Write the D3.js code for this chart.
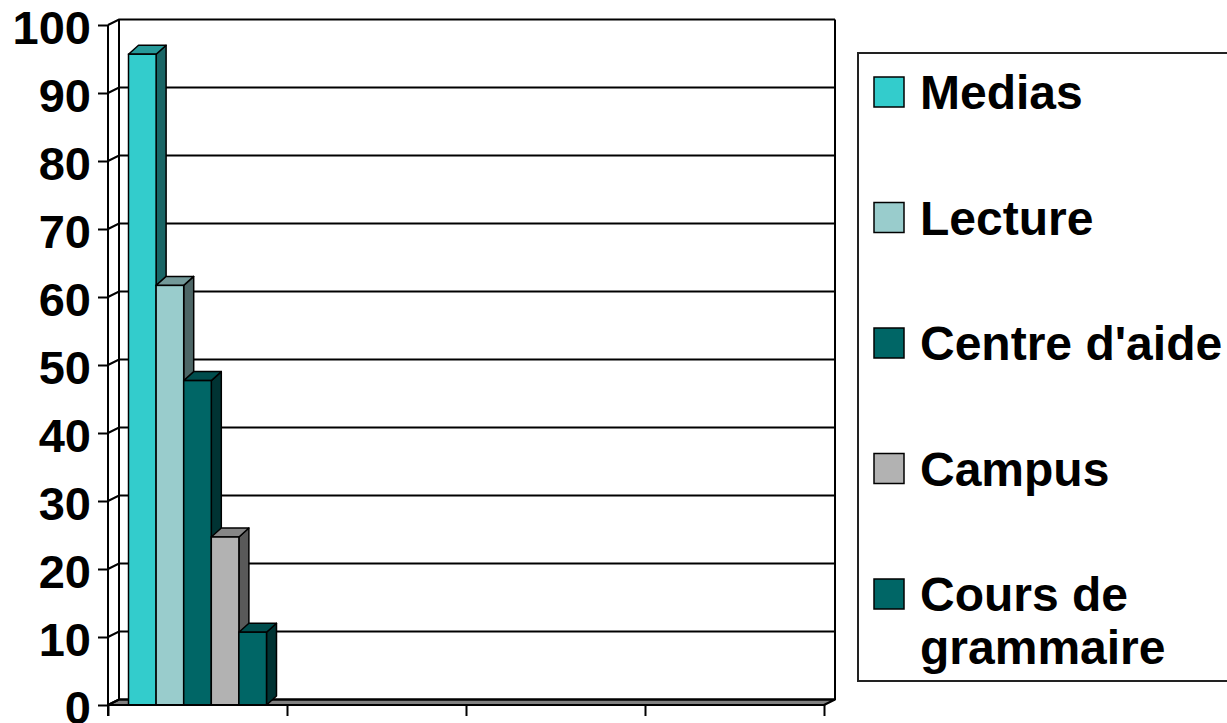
<!DOCTYPE html>
<html>
<head>
<meta charset="utf-8">
<script src="https://cdn.jsdelivr.net/npm/d3@7/dist/d3.min.js"></script>
<style>
  html, body { margin: 0; padding: 0; background: #fff; }
  svg { display: block; }
  text { font-family: "Liberation Sans", Arial, sans-serif; font-weight: bold; fill: #000; }
</style>
</head>
<body>
<svg id="chart" width="1227" height="723"></svg>
<script>
// ---- data ----
const categories = [1, 2, 3, 4];
const seriesNames = ["Medias", "Lecture", "Centre d'aide", "Campus", "Cours de grammaire"];
const seriesValues = [96, 62, 48, 25, 11];        // first category only
const seriesColors = ["#33CCCC", "#99CCCC", "#006666", "#B2B2B2", "#006666"];
const yTicks = [0, 10, 20, 30, 40, 50, 60, 70, 80, 90, 100];

// ---- geometry ----
const plot = { left: 108, right: 824, top: 25, bottom: 705 };
const wallDx = 11, wallDy = -5.5;     // depth of the walls / floor
const barDx = 10, barDy = -9;         // depth of each column
const axisFont = 47, legendFont = 48;

const svg = d3.select("#chart");

const y = d3.scaleLinear().domain([0, 100]).range([plot.bottom, plot.top]);
const yBar = d3.scaleLinear().domain([0, 100]).range([plot.bottom + 2, plot.top + 2]);
const x = d3.scaleBand().domain(categories).range([plot.left, plot.right]).padding(0);
const xs = d3.scaleBand().domain(seriesNames).range([0, x.bandwidth()])
  .paddingInner(0).paddingOuter(0.743);
const xEdges = d3.scaleLinear().domain([0, categories.length]).range([plot.left, plot.right]);

const shade = (c, k) => { const o = d3.rgb(c); return d3.rgb(o.r * k, o.g * k, o.b * k).formatHex(); };
const pts = a => a.map(p => p.join(",")).join(" ");

// ---- floor ----
const gWalls = svg.append("g");
gWalls.append("polygon")
  .attr("points", pts([
    [plot.left, y(0)], [plot.right, y(0)],
    [plot.right + wallDx, y(0) + wallDy], [plot.left + wallDx, y(0) + wallDy]
  ]))
  .attr("fill", "#808080").attr("stroke", "#000").attr("stroke-width", 2)
  .attr("stroke-linejoin", "round");

// ---- back wall gridlines (with the diagonal on the side wall) ----
gWalls.selectAll("polyline.grid").data(yTicks).join("polyline")
  .attr("class", "grid")
  .attr("points", d => pts([
    [plot.left, y(d)], [plot.left + wallDx, y(d) + wallDy], [plot.right + wallDx, y(d) + wallDy]
  ]))
  .attr("fill", "none").attr("stroke", "#000").attr("stroke-width", 2);

// back wall verticals
[plot.left + wallDx, plot.right + wallDx].forEach(xv => {
  gWalls.append("line")
    .attr("x1", xv).attr("x2", xv)
    .attr("y1", y(100) + wallDy).attr("y2", y(0) + wallDy)
    .attr("stroke", "#000").attr("stroke-width", 2);
});

// ---- columns ----
const gBars = svg.append("g");
seriesNames.forEach((name, i) => {
  const v = seriesValues[i];
  if (v == null) return;
  const x0 = x(categories[0]) + xs(name);
  const x1 = x0 + xs.bandwidth();
  const yt = yBar(v), yb = y(0);
  const col = seriesColors[i];
  const g = gBars.append("g");
  // side face
  g.append("polygon")
    .attr("points", pts([[x1, yt], [x1 + barDx, yt + barDy], [x1 + barDx, yb + barDy], [x1, yb]]))
    .attr("fill", shade(col, 0.5)).attr("stroke", "#000").attr("stroke-width", 1.5)
    .attr("stroke-linejoin", "round");
  // top face
  g.append("polygon")
    .attr("points", pts([[x0, yt], [x0 + barDx, yt + barDy], [x1 + barDx, yt + barDy], [x1, yt]]))
    .attr("fill", shade(col, 0.75)).attr("stroke", "#000").attr("stroke-width", 1.5)
    .attr("stroke-linejoin", "round");
  // front face
  g.append("rect")
    .attr("x", x0).attr("y", yt).attr("width", x1 - x0).attr("height", yb - yt)
    .attr("fill", col).attr("stroke", "#000").attr("stroke-width", 1.5);
});

// ---- axes ----
const yAxis = d3.axisLeft(y).tickValues(yTicks).tickSize(10).tickPadding(7)
  .tickFormat(d3.format("d"));
const gy = svg.append("g").attr("transform", `translate(${plot.left},0)`).call(yAxis);
gy.select(".domain").remove();
gy.selectAll(".tick line").attr("stroke", "#000").attr("stroke-width", 2);
gy.selectAll(".tick text")
  .attr("font-size", axisFont).attr("dy", null).attr("y", 0)
  .attr("dominant-baseline", "central").attr("transform", "translate(0,2)")
  .style("font-family", '"Liberation Sans", Arial, sans-serif').style("font-weight", "bold");
svg.append("line")
  .attr("x1", plot.left).attr("x2", plot.left)
  .attr("y1", y(100)).attr("y2", y(0) + 11)
  .attr("stroke", "#000").attr("stroke-width", 2);

const xAxis = d3.axisBottom(xEdges).tickValues(d3.range(categories.length + 1))
  .tickSize(11).tickFormat(() => "");
const gx = svg.append("g").attr("transform", `translate(0,${y(0)})`).call(xAxis);
gx.select(".domain").attr("stroke", "#000").attr("stroke-width", 2).attr("d", `M${plot.left},0H${plot.right}`);
gx.selectAll(".tick line").attr("stroke", "#000").attr("stroke-width", 2);

// ---- legend ----
const legend = { x: 858, y: 53, w: 380, h: 628 };
const gL = svg.append("g");
gL.append("rect")
  .attr("x", legend.x).attr("y", legend.y).attr("width", legend.w).attr("height", legend.h)
  .attr("fill", "#fff").attr("stroke", "#222").attr("stroke-width", 2);

const itemStep = 125.5, swatchTop = 77, swatch = 30, textX = 920, maxTextW = 303, lineH = 53;
seriesNames.forEach((name, i) => {
  const top = swatchTop + i * itemStep;
  gL.append("rect")
    .attr("x", 874).attr("y", top).attr("width", swatch).attr("height", swatch)
    .attr("fill", seriesColors[i]).attr("stroke", "#000").attr("stroke-width", 1.5);
  const t = gL.append("text").attr("x", textX).attr("y", top + 32).attr("font-size", legendFont);
  // simple word wrap inside the legend box
  const words = name.split(" ");
  let line = [], tspan = t.append("tspan").attr("x", textX).attr("dy", 0);
  words.forEach(w => {
    line.push(w);
    tspan.text(line.join(" "));
    if (tspan.node().getComputedTextLength() > maxTextW && line.length > 1) {
      line.pop();
      tspan.text(line.join(" "));
      line = [w];
      tspan = t.append("tspan").attr("x", textX).attr("dy", lineH).text(w);
    }
  });
});
</script>
</body>
</html>
